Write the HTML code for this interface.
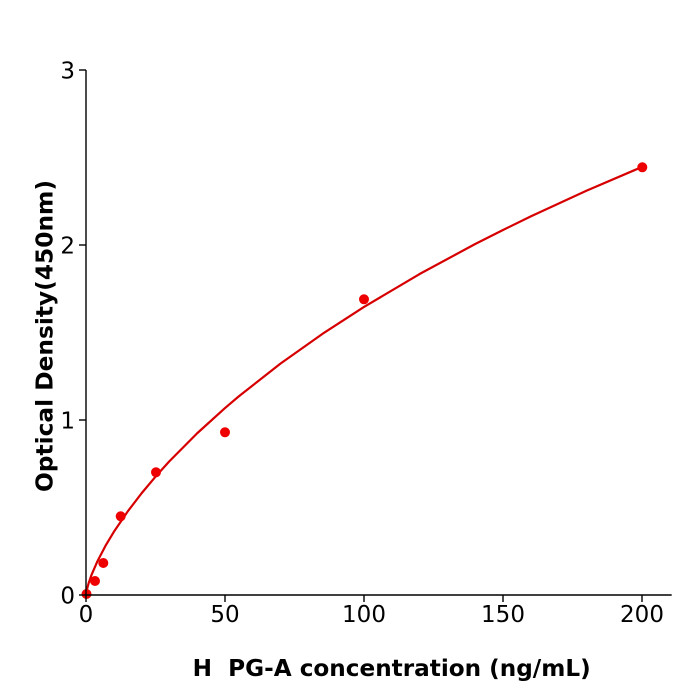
<!DOCTYPE html>
<html>
<head>
<meta charset="utf-8">
<style>
html,body{margin:0;padding:0;background:#fff;}
svg{display:block;}
</style>
</head>
<body>
<svg width="700" height="700" viewBox="0 0 700 700" xmlns="http://www.w3.org/2000/svg">
<rect x="0" y="0" width="700" height="700" fill="#fff"/>

<!-- curve -->
<polyline fill="none" stroke="#d60000" stroke-width="2.2" stroke-linejoin="round" stroke-linecap="round"
points="86,595 86.83,589.8 88.78,582.7 91.56,574.8 97.12,561.9 105.46,545.85 113.8,531.9 127.7,511.44 141.6,493.26 155.5,476.65 169.4,461.27 197.2,433.25 225,408.05 238.9,396.25 280.6,363.5 322.3,333.97 364,306.95 419.6,274.03 475.2,244.0 503,230 530.8,216.4 586.4,190.8 642,166.93"/>

<!-- points -->
<g fill="#ee0000">
<circle cx="86.5" cy="594" r="5"/>
<circle cx="95" cy="581" r="5"/>
<circle cx="103.3" cy="563" r="5"/>
<circle cx="120.7" cy="516.3" r="5"/>
<circle cx="156" cy="472.3" r="5"/>
<circle cx="225" cy="432.3" r="5"/>
<circle cx="364" cy="299.3" r="5"/>
<circle cx="642.3" cy="167.3" r="5"/>
</g>

<!-- axes -->
<g stroke="#000" stroke-width="1.4" fill="none">
<line x1="86" y1="70" x2="86" y2="595.7"/>
<line x1="85.3" y1="595" x2="671.7" y2="595"/>
<!-- y ticks -->
<line x1="79" y1="70" x2="86" y2="70"/>
<line x1="79" y1="245" x2="86" y2="245"/>
<line x1="79" y1="420" x2="86" y2="420"/>
<line x1="79" y1="595" x2="86" y2="595"/>
<!-- x ticks -->
<line x1="86" y1="595" x2="86" y2="602"/>
<line x1="225" y1="595" x2="225" y2="602"/>
<line x1="364" y1="595" x2="364" y2="602"/>
<line x1="503" y1="595" x2="503" y2="602"/>
<line x1="642" y1="595" x2="642" y2="602"/>
</g>

<!-- tick labels -->
<g font-family="'DejaVu Sans','Liberation Sans',sans-serif" font-size="23" fill="#000">
<text x="75" y="78.4" text-anchor="end">3</text>
<text x="75" y="253.4" text-anchor="end">2</text>
<text x="75" y="428.4" text-anchor="end">1</text>
<text x="75" y="603.4" text-anchor="end">0</text>
<text x="86" y="622" text-anchor="middle">0</text>
<text x="225" y="622" text-anchor="middle">50</text>
<text x="364" y="622" text-anchor="middle">100</text>
<text x="503" y="622" text-anchor="middle">150</text>
<text x="642" y="622" text-anchor="middle">200</text>
</g>

<!-- axis labels -->
<g font-family="'DejaVu Sans','Liberation Sans',sans-serif" font-size="23" font-weight="bold" fill="#000">
<text x="192.7" y="676" textLength="398" lengthAdjust="spacingAndGlyphs" style="white-space:pre" xml:space="preserve">H  PG-A concentration (ng/mL)</text>
<text transform="translate(52.5,336) rotate(-90)" x="0" y="0" text-anchor="middle" textLength="312" lengthAdjust="spacingAndGlyphs">Optical Density(450nm)</text>
</g>
</svg>
</body>
</html>
